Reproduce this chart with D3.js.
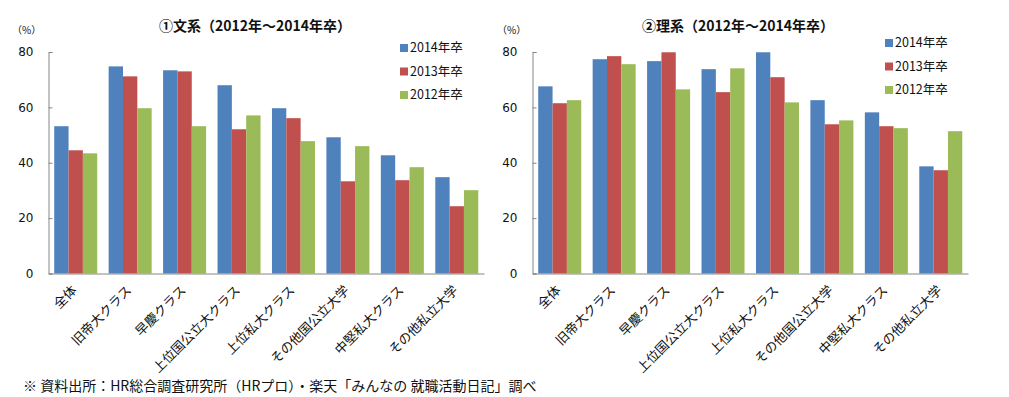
<!DOCTYPE html>
<html>
<head>
<meta charset="utf-8">
<script src="https://cdn.jsdelivr.net/npm/d3@7"></script>
<style>
  body { margin: 0; background: #fff; }
  text { font-family: "Noto Sans CJK JP", sans-serif; fill: #111; }
</style>
</head>
<body>
<svg id="chart" width="1009" height="397"></svg>
<script>
// categories and series
var categories = ['全体', '旧帝大クラス', '早慶クラス', '上位国公立大クラス', '上位私大クラス', 'その他国公立大学', '中堅私大クラス', 'その他私立大学'];
var seriesNames = ['2014年卒', '2013年卒', '2012年卒'];
var colors = ['#4F81BD', '#C0504D', '#9BBB59'];
var yTicks = [0, 20, 40, 60, 80];

// ①文系
var bunkei2014 = [53.2, 74.8, 73.4, 68.0, 59.7, 49.2, 42.7, 34.8];
var bunkei2013 = [44.5, 71.2, 73.0, 52.1, 56.1, 33.3, 33.7, 24.3];
var bunkei2012 = [43.4, 59.7, 53.2, 57.1, 47.8, 46.0, 38.4, 30.1];

// ②理系
var rikei2014 = [67.6, 77.4, 76.7, 73.8, 79.9, 62.6, 58.2, 38.7];
var rikei2013 = [61.5, 78.5, 79.9, 65.5, 70.9, 53.9, 53.2, 37.3];
var rikei2012 = [62.6, 75.6, 66.5, 74.1, 61.8, 55.3, 52.5, 51.4];

var svg = d3.select('#chart');

function drawChart(opts) {
    var data = categories.map(function (c, i) {
        return { cat: c, vals: opts.series.map(function (s) { return s[i]; }) };
    });

    var x = d3.scaleBand()
        .domain(categories)
        .range([opts.x0, opts.x1])
        .paddingInner(0.21)
        .paddingOuter(0.105);
    var xs = d3.scaleBand()
        .domain(d3.range(seriesNames.length))
        .range([0, x.bandwidth()]);
    var y = d3.scaleLinear().domain([0, 80]).range([273.5, 52]);

    var g = svg.append('g');

    // bars
    var grp = g.selectAll('.cat')
        .data(data)
        .enter().append('g')
        .attr('transform', function (d) { return 'translate(' + x(d.cat) + ',0)'; });
    grp.selectAll('rect')
        .data(function (d) { return d.vals; })
        .enter().append('rect')
        .attr('x', function (d, i) { return xs(i); })
        .attr('width', xs.bandwidth())
        .attr('y', function (d) { return y(d); })
        .attr('height', function (d) { return y(0) - y(d); })
        .attr('fill', function (d, i) { return colors[i]; });

    // y axis
    var yAxis = g.append('g')
        .attr('transform', 'translate(' + opts.x0 + ',0)')
        .call(d3.axisLeft(y).tickValues(yTicks).tickSize(-4).tickPadding(15));
    yAxis.select('.domain').attr('stroke', '#868686');
    yAxis.selectAll('.tick line').attr('stroke', '#868686');
    yAxis.selectAll('.tick text')
        .style('font-family', '"DejaVu Sans", sans-serif')
        .style('font-size', '12px')
        .attr('fill', '#111');

    // x axis line
    var xAxis = g.append('g')
        .attr('transform', 'translate(0,' + y(0) + ')')
        .call(d3.axisBottom(x).tickSize(0).tickFormat(''));
    xAxis.select('.domain').attr('stroke', '#868686');

    // rotated category labels
    g.selectAll('.xlab')
        .data(categories)
        .enter().append('text')
        .attr('transform', function (d) {
            return 'translate(' + (x(d) + x.bandwidth() / 2 + 2) + ',' + 291 + ') rotate(-45)';
        })
        .attr('text-anchor', 'end')
        .style('font-size', '13px')
        .text(function (d) { return d; });

    // title
    g.append('text')
        .attr('x', opts.titleX)
        .attr('y', 31)
        .attr('text-anchor', 'middle')
        .style('font-size', '14px')
        .style('font-weight', 'bold')
        .text(opts.title);

    // unit
    g.append('text')
        .attr('x', opts.unitX)
        .attr('y', 34)
        .style('font-size', '10px')
        .text('（%）');

    // legend
    var leg = g.selectAll('.leg')
        .data(seriesNames)
        .enter().append('g')
        .attr('transform', function (d, i) {
            return 'translate(' + opts.legX + ',' + (opts.legY + i * 23.5) + ')';
        });
    leg.append('rect')
        .attr('x', 0).attr('y', -7)
        .attr('width', 8).attr('height', 8)
        .attr('fill', function (d, i) { return colors[i]; });
    leg.append('text')
        .attr('x', 10).attr('y', 1)
        .style('font-size', '12.5px')
        .text(function (d) { return d; });
}

drawChart({
    series: [bunkei2014, bunkei2013, bunkei2012],
    x0: 48.5, x1: 484,
    title: '①文系（2012年～2014年卒）',
    titleX: 255, unitX: 12,
    legX: 400, legY: 51
});

drawChart({
    series: [rikei2014, rikei2013, rikei2012],
    x0: 532.5, x1: 968,
    title: '②理系（2012年～2014年卒）',
    titleX: 738, unitX: 497,
    legX: 885, legY: 46
});

// source note
svg.append('text')
    .attr('x', 23)
    .attr('y', 391)
    .style('font-size', '14px')
    .text('※ 資料出所：HR総合調査研究所（HRプロ）・楽天「みんなの 就職活動日記」調べ');
</script>
</body>
</html>
